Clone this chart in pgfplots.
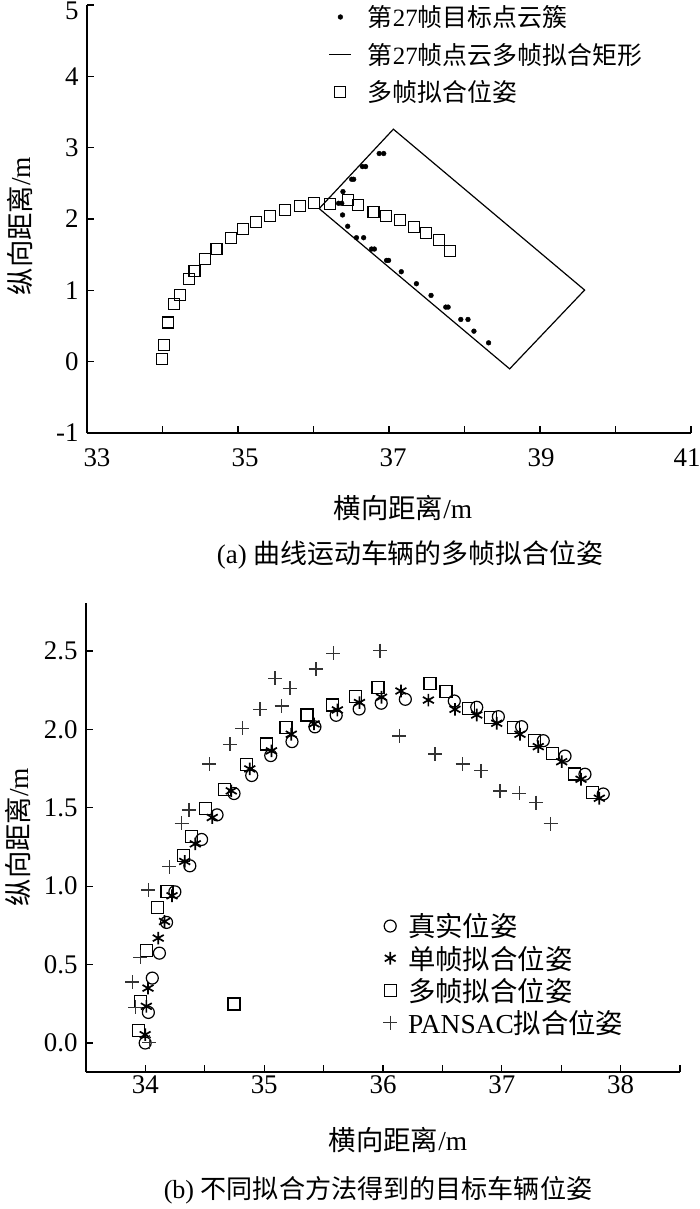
\documentclass[border=0pt]{standalone}
\usepackage{fontspec}
\setmainfont{Liberation Serif}
\newfontfamily\cjk{Noto Sans CJK SC}
\newcommand\zh[1]{{\cjk #1}}
\usepackage{pgfplots}
\pgfplotsset{compat=1.18}
\newcommand\fs{\fontsize{27}{31}\selectfont}
\newcommand\fl{\fontsize{27.5}{31}\selectfont}
\newcommand\fca{\fontsize{27}{31}\selectfont}
\newcommand\fcb{\fontsize{26.2}{30}\selectfont}
\newcommand\fla{\fontsize{25}{29}\selectfont}
\newcommand\flb{\fontsize{27.5}{31}\selectfont}
\pgfplotsset{
  common/.style={
    scale only axis,
    axis x line=bottom, axis y line=left,
    axis line style={-, line width=1.2bp, black},
    tick align=inside, major tick length=7bp,
    tick style={line width=1.2bp, black},
    tick label style={font=\fs},
    yticklabel style={xshift=-5bp},
    legend style={draw=none, fill=none, legend cell align=left,
      inner sep=0pt, nodes={inner sep=0pt}},
  },
  markleg/.style={legend image code/.code={\draw[##1] plot coordinates {(11bp,0bp)};}},
  lineleg/.style={legend image code/.code={\draw[##1] (0bp,0bp) -- (22bp,0bp);}},
}
\begin{document}
\begin{tikzpicture}
\useasboundingbox (0,0) rectangle (700bp,-1209bp);
% ---------------- (a) ----------------
\begin{axis}[common,
  at={(87bp,-433bp)}, anchor=south west,
  width=604bp, height=428bp,
  xmin=33, xmax=41, ymin=-1, ymax=5,
  xtick={33,34,35,36,37,38,39,40,41},
  xticklabels={\hspace*{20bp}33,,\hspace*{14bp}35,,\hspace*{8bp}37,,\hspace*{2bp}39,,41\hspace*{8bp}},
  xticklabel style={yshift=-12bp},
  ytick={-1,0,1,2,3,4,5},
  yticklabels={-1,0,1,2,3,4,{\raisebox{-6bp}[\height][\depth]{5}}},
  legend style={at={(axis description cs:0.400,0.9988)}, anchor=north west,
    font=\fla, row sep=15bp, /tikz/every odd column/.append style={column sep=16bp}},
]
\addplot[only marks, mark=*, mark size=2.4bp, black, markleg] coordinates {
(36.87,2.918)(36.93,2.918)
(36.648,2.735)(36.690,2.735)
(36.506,2.557)(36.532,2.557)
(36.390,2.384)
(36.332,2.220)(36.374,2.220)
(36.385,2.057)
(36.453,1.898)
(36.569,1.738)(36.664,1.738)
(36.769,1.579)(36.806,1.579)
(36.968,1.420)(36.995,1.420)
(37.163,1.261)
(37.363,1.093)
(37.557,0.929)
(37.752,0.765)(37.783,0.765)
(37.951,0.592)(38.046,0.592)
(38.125,0.428)
(38.319,0.264)
};
\addlegendentry{\zh{第}27\zh{帧目标点云簇}}
\addplot[black, line width=1.2bp, lineleg] coordinates {
(36.075,2.146)(37.058,3.259)(39.591,1.004)(38.598,-0.101)(36.075,2.146)
};
\addlegendentry{\zh{第}27\zh{帧点云多帧拟合矩形}}
\addplot[only marks, mark=square, mark size=5.5bp, line width=1.2bp, black, markleg] coordinates {
(33.993,0.040)(34.025,0.236)(34.072,0.550)(34.156,0.803)(34.230,0.938)
(34.346,1.154)(34.424,1.270)(34.561,1.439)(34.714,1.584)(34.903,1.734)
(35.071,1.855)(35.234,1.958)(35.428,2.043)(35.623,2.122)(35.823,2.178)
(36.007,2.225)(36.217,2.206)(36.453,2.262)(36.590,2.197)(36.795,2.099)
(36.963,2.038)(37.142,1.982)(37.331,1.888)(37.494,1.809)(37.657,1.706)
(37.809,1.551)
};
\addlegendentry{\zh{多帧拟合位姿}}
\end{axis}
% ---------------- (b) ----------------
\begin{axis}[common,
  at={(86bp,-1072bp)}, anchor=south west,
  width=594bp, height=469bp,
  xmin=33.5, xmax=38.5, ymin=-0.185, ymax=2.806,
  xtick={34,34.5,35,35.5,36,36.5,37,37.5,38,38.5},
  xticklabels={34,,35,,36,,37,,38,},
  ytick={0,0.5,1,1.5,2,2.5},
  yticklabels={0.0,0.5,1.0,1.5,2.0,2.5},
  legend style={at={(axis description cs:0.500,0.338)}, anchor=north west,
    font=\flb, row sep=7.5bp, /tikz/every odd column/.append style={column sep=11bp}},
]
\addplot[only marks, mark=o, mark size=6bp, line width=1.2bp, black, markleg] coordinates {
(33.998,0.000)(34.025,0.195)(34.058,0.414)(34.118,0.573)(34.178,0.769)
(34.248,0.964)(34.374,1.130)(34.473,1.298)(34.603,1.455)(34.746,1.591)
(34.895,1.706)(35.055,1.833)(35.234,1.922)(35.427,2.016)(35.606,2.090)
(35.799,2.130)(35.985,2.167)(36.188,2.192)(36.600,2.181)(36.789,2.141)
(36.971,2.081)(37.167,2.017)(37.349,1.928)(37.532,1.830)(37.700,1.714)
(37.854,1.588)
};
\addlegendentry{\zh{真实位姿}}
\addplot[only marks, mark=asterisk, mark size=6.3bp, line width=1.7bp, black, markleg] coordinates {
(33.998,0.053)(34.008,0.234)(34.022,0.350)(34.108,0.669)(34.161,0.775)
(34.224,0.939)(34.331,1.158)(34.420,1.270)(34.563,1.438)(34.723,1.608)
(34.879,1.748)(35.061,1.863)(35.228,1.969)(35.420,2.035)(35.616,2.124)
(35.802,2.171)(35.988,2.205)(36.151,2.245)(36.382,2.187)(36.606,2.128)
(36.789,2.092)(36.957,2.039)(37.153,1.969)(37.307,1.890)(37.504,1.794)
(37.667,1.682)(37.821,1.561)
};
\addlegendentry{\zh{单帧拟合位姿}}
\addplot[only marks, mark=square, mark size=6bp, line width=1.2bp, black, markleg] coordinates {
(33.942,0.081)(33.958,0.266)(34.008,0.590)(34.105,0.864)(34.181,0.966)
(34.321,1.196)(34.387,1.317)(34.507,1.493)(34.669,1.619)(34.852,1.778)
(35.022,1.907)(35.184,2.014)(35.360,2.092)(35.576,2.156)(35.769,2.209)
(35.958,2.266)(36.396,2.294)(36.530,2.240)(36.718,2.134)(36.906,2.077)
(37.097,2.013)(37.274,1.928)(37.428,1.848)(37.610,1.716)(37.762,1.596)
(34.746,0.249)
};
\addlegendentry{\zh{多帧拟合位姿}}
\addplot[only marks, mark=+, mark size=7bp, line width=1.1bp, black!80, markleg] coordinates {
(34.032,0.006)(33.915,0.229)(33.889,0.389)(33.955,0.546)(34.025,0.976)
(34.201,1.124)(34.305,1.401)(34.367,1.486)(34.538,1.779)(34.712,1.905)
(34.816,2.007)(34.965,2.128)(35.147,2.149)(35.091,2.326)(35.217,2.262)
(35.436,2.385)(35.582,2.485)(35.975,2.502)(36.137,1.958)(36.438,1.843)
(36.671,1.779)(36.825,1.735)(36.985,1.607)(37.148,1.592)(37.288,1.533)
(37.411,1.397)
};
\addlegendentry{PANSAC\zh{拟合位姿}}
\end{axis}
% ---------------- labels ----------------
\node[font=\fl, rotate=90] at (20bp,-226bp) {\zh{纵向距离}/m};
\node[font=\fl] at (403bp,-508bp) {\zh{横向距离}/m};
\node[font=\fca] at (410bp,-555bp) {(a) \zh{曲线运动车辆的多帧拟合位姿}};
\node[font=\fl, rotate=90] at (18bp,-837bp) {\zh{纵向距离}/m};
\node[font=\fl] at (398bp,-1140bp) {\zh{横向距离}/m};
\node[font=\fcb] at (378bp,-1190bp) {(b) \zh{不同拟合方法得到的目标车辆位姿}};
\end{tikzpicture}
\end{document}
